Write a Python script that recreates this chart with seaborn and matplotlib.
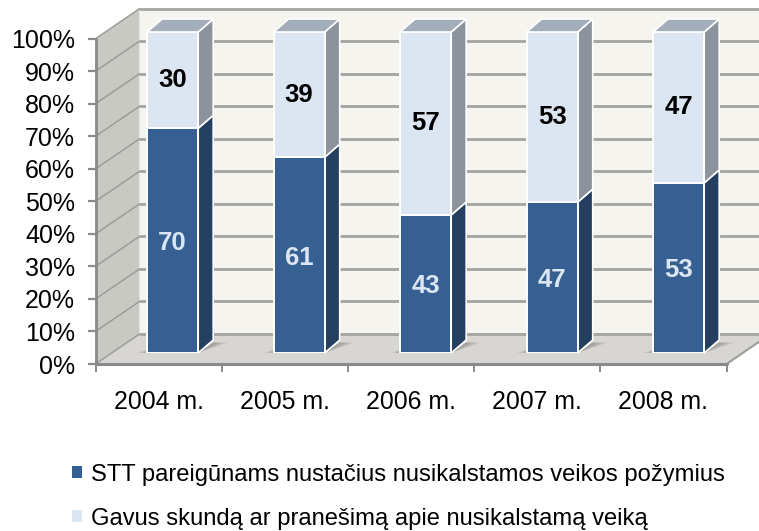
import matplotlib
matplotlib.use('Agg')
import matplotlib.pyplot as plt
from matplotlib.patches import Polygon, Patch
import seaborn as sns
import pandas as pd

years = ['2004 m.', '2005 m.', '2006 m.', '2007 m.', '2008 m.']
stt_values = [70, 61, 43, 47, 53]
complaint_values = [30, 39, 57, 53, 47]
y_ticks = list(range(0, 101, 10))
legend_labels = ['STT pareigūnams nustačius nusikalstamos veikos požymius',
                 'Gavus skundą ar pranešimą apie nusikalstamą veiką']

W, H = 759, 531
DARK = '#376092'
DARK_SIDE = '#243F60'
LIGHT = '#DCE6F2'
LIGHT_SIDE = '#8C939C'
LIGHT_TOP = '#A4ADBA'
GRID = '#A3A3A0'
AXIS = '#8A8A8A'

sns.set_theme(style='white')
plt.rcParams['font.family'] = ['Liberation Sans', 'DejaVu Sans']


def px_axes(fig, left, right, top, bottom):
    return fig.add_axes([left / W, 1 - bottom / H, (right - left) / W, (bottom - top) / H])


def poly(ax, pts, **kw):
    kw.setdefault('clip_on', False)
    ax.add_patch(Polygon(pts, closed=True, **kw))


fig = plt.figure(figsize=(W / 100, H / 100), dpi=100)

# front plane, carries the axes and the walls behind the bars
ax = px_axes(fig, 95.5, 726.5, 38.7, 364)
ax.set_xlim(-0.5, 4.5)
ax.set_ylim(0, 100)
ax.patch.set_visible(False)
for s in ax.spines.values():
    s.set_visible(False)

dx = 44 / 126.2
dy = 30 / 3.253
x0, x1 = -0.5, 4.5

poly(ax, [(x0, 0), (x0 + dx, dy), (x0 + dx, 100 + dy), (x0, 100)], fc='#C9C9C4', ec='none', zorder=1)
poly(ax, [(x0 + dx, dy), (x1 + dx, dy), (x1 + dx, 100 + dy), (x0 + dx, 100 + dy)], fc='#F5F4EF', ec='none', zorder=1)
poly(ax, [(x0, 0), (x1, 0), (x1 + dx, dy), (x0 + dx, dy)], fc='#D7D6D2', ec='none', zorder=1)

for t in y_ticks:
    ax.plot([x0 + dx, x1 + dx], [t + dy, t + dy], color=GRID, lw=2, zorder=2, clip_on=False)
    ax.plot([x0, x0 + dx], [t, t + dy], color='#9C9C98', lw=1.1, zorder=2, clip_on=False)
ax.plot([x1, x1 + dx], [0, dy], color='#9C9C98', lw=1.5, zorder=2, clip_on=False)
ax.plot([x0, x0], [0, 100], color=AXIS, lw=2, zorder=3, clip_on=False)
ax.plot([x0, x1], [0, 0], color=AXIS, lw=2.2, zorder=3, clip_on=False)

ax.set_yticks(y_ticks)
ax.set_yticklabels([f'{t}%' for t in y_ticks], fontsize=18, color='black')
ax.set_xticks([i - 0.5 for i in range(len(years) + 1)])
ax.set_xticklabels([])
ax.set_xticks(range(len(years)), years, minor=True, fontsize=17.9, color='black')
ax.tick_params(axis='y', which='major', left=True, length=6, width=1.6, color=AXIS, pad=8.6)
ax.tick_params(axis='x', which='major', bottom=True, length=5.5, width=1.4, color=AXIS)
ax.tick_params(axis='x', which='minor', bottom=False, length=0, pad=18.5)

# bar plane sits a bit deeper than the front axis
bx = px_axes(fig, 109.4, 741.9, 32, 353)
df = pd.DataFrame({'year': years, 'stt': stt_values, 'complaint': complaint_values})
sns.barplot(data=df, x='year', y='stt', color=DARK, saturation=1, width=0.404,
            edgecolor='white', linewidth=1.4, ax=bx, zorder=5)
sns.barplot(data=df, x='year', y='complaint', bottom=df['stt'], color=LIGHT, saturation=1, width=0.404,
            edgecolor='white', linewidth=1.4, ax=bx, zorder=5)
bx.set_xlim(-0.5, 4.5)
bx.set_ylim(0, 100)
bx.axis('off')

bar_dx = 15 / 126.5
bar_dy = 13 / 3.21
n = len(years)
for low, high in zip(bx.patches[:n], bx.patches[n:]):
    r = low.get_x() + low.get_width()
    l = low.get_x()
    mid = low.get_height()
    top = high.get_y() + high.get_height()
    # floor shadow, stacked layers to fake the fade
    for k in range(1, 7):
        reach = bar_dx * k / 6
        poly(bx, [(r, 0), (r + bar_dx, bar_dy * 0.8), (r + bar_dx + reach, bar_dy * 0.8)],
             fc='#7F7E7A', ec='none', alpha=0.14, zorder=3)
        poly(bx, [(l, 0), (l, bar_dy * 0.25), (l - reach * 0.7, 0)],
             fc='#7F7E7A', ec='none', alpha=0.1, zorder=3)
    poly(bx, [(r, 0), (r + bar_dx, bar_dy), (r + bar_dx, mid + bar_dy), (r, mid)],
         fc=DARK_SIDE, ec='white', lw=1.2, zorder=4)
    poly(bx, [(r, mid), (r + bar_dx, mid + bar_dy), (r + bar_dx, top + bar_dy), (r, top)],
         fc=LIGHT_SIDE, ec='white', lw=1.2, zorder=4)
    poly(bx, [(l, top), (r, top), (r + bar_dx, top + bar_dy), (l + bar_dx, top + bar_dy)],
         fc=LIGHT_TOP, ec='white', lw=1.2, zorder=4)

dark_labels = bx.bar_label(bx.containers[0], label_type='center', color=LIGHT, fontsize=18.5,
                           fontweight='bold', zorder=7)
for t in dark_labels:
    t.xyann = (0, -1.8)
bx.bar_label(bx.containers[1], label_type='center', color='black', fontsize=18.5, fontweight='bold', zorder=7)

handles = [Patch(fc=DARK, ec='none'), Patch(fc=LIGHT, ec='none')]
leg = fig.legend(handles, legend_labels, loc='upper left', bbox_to_anchor=(72 / W, 1 - 463.5 / H), frameon=False,
                 fontsize=17.1, handlelength=0.42, handleheight=0.42, handletextpad=0.38,
                 labelspacing=0.94, borderpad=0, borderaxespad=0, labelcolor='black')

fig.savefig('out.png', dpi=100, facecolor='white')
